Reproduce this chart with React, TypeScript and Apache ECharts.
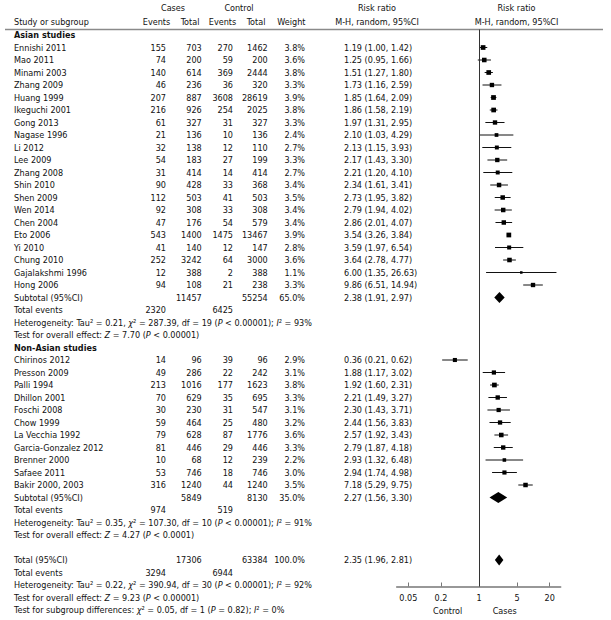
import React, { useEffect, useRef } from "react";
import * as echarts from "echarts";

// ---------------- DATA ----------------
const asianNames = ["Ennishi 2011", "Mao 2011", "Minami 2003", "Zhang 2009", "Huang 1999", "Ikeguchi 2001", "Gong 2013", "Nagase 1996", "Li 2012", "Lee 2009", "Zhang 2008", "Shin 2010", "Shen 2009", "Wen 2014", "Chen 2004", "Eto 2006", "Yi 2010", "Chung 2010", "Gajalakshmi 1996", "Hong 2006"];
const asianCaseEvents = [155, 74, 140, 46, 207, 216, 61, 21, 32, 54, 31, 90, 112, 92, 47, 543, 41, 252, 12, 94];
const asianCaseTotals = [703, 200, 614, 236, 887, 926, 327, 136, 138, 183, 414, 428, 503, 308, 176, 1400, 140, 3242, 388, 108];
const asianCtrlEvents = [270, 59, 369, 36, 3608, 254, 31, 10, 12, 27, 14, 33, 41, 33, 54, 1475, 12, 64, 2, 21];
const asianCtrlTotals = [1462, 200, 2444, 320, 28619, 2025, 327, 136, 110, 199, 414, 368, 503, 308, 579, 13467, 147, 3000, 388, 238];
const asianWeights = [3.8, 3.6, 3.8, 3.3, 3.9, 3.8, 3.3, 2.4, 2.7, 3.3, 2.7, 3.4, 3.5, 3.4, 3.4, 3.9, 2.8, 3.6, 1.1, 3.3];
const asianRR = [1.19, 1.25, 1.51, 1.73, 1.85, 1.86, 1.97, 2.10, 2.13, 2.17, 2.21, 2.34, 2.73, 2.79, 2.86, 3.54, 3.59, 3.64, 6.00, 9.86];
const asianLo = [1.00, 0.95, 1.27, 1.16, 1.64, 1.58, 1.31, 1.03, 1.15, 1.43, 1.20, 1.61, 1.95, 1.94, 2.01, 3.26, 1.97, 2.78, 1.35, 6.51];
const asianHi = [1.42, 1.66, 1.80, 2.59, 2.09, 2.19, 2.95, 4.29, 3.93, 3.30, 4.10, 3.41, 3.82, 4.02, 4.07, 3.84, 6.54, 4.77, 26.63, 14.94];

const nonAsianNames = ["Chirinos 2012", "Presson 2009", "Palli 1994", "Dhillon 2001", "Foschi 2008", "Chow 1999", "La Vecchia 1992", "Garcia-Gonzalez 2012", "Brenner 2000", "Safaee 2011", "Bakir 2000, 2003"];
const nonAsianCaseEvents = [14, 49, 213, 70, 30, 59, 79, 81, 10, 53, 316];
const nonAsianCaseTotals = [96, 286, 1016, 629, 230, 464, 628, 446, 68, 746, 1240];
const nonAsianCtrlEvents = [39, 22, 177, 35, 31, 25, 87, 29, 12, 18, 44];
const nonAsianCtrlTotals = [96, 242, 1623, 695, 547, 480, 1776, 446, 239, 746, 1240];
const nonAsianWeights = [2.9, 3.1, 3.8, 3.3, 3.1, 3.2, 3.6, 3.3, 2.2, 3.0, 3.5];
const nonAsianRR = [0.36, 1.88, 1.92, 2.21, 2.30, 2.44, 2.57, 2.79, 2.93, 2.94, 7.18];
const nonAsianLo = [0.21, 1.17, 1.60, 1.49, 1.43, 1.56, 1.92, 1.87, 1.32, 1.74, 5.29];
const nonAsianHi = [0.62, 3.02, 2.31, 3.27, 3.71, 3.83, 3.43, 4.18, 6.48, 4.98, 9.75];

// subtotals: [Asian, Non-Asian, Overall]
const summaryLabels = ["Subtotal (95%CI)", "Subtotal (95%CI)", "Total (95%CI)"];
const summaryCaseTotals = [11457, 5849, 17306];
const summaryCtrlTotals = [55254, 8130, 63384];
const summaryWeights = [65.0, 35.0, 100.0];
const summaryRR = [2.38, 2.27, 2.35];
const summaryLo = [1.91, 1.56, 1.96];
const summaryHi = [2.97, 3.30, 2.81];
const summaryCaseEvents = [2320, 974, 3294];
const summaryCtrlEvents = [6425, 519, 6944];
const hetTau2 = ["0.21", "0.35", "0.22"];
const hetChi2 = ["287.39", "107.30", "390.94"];
const hetDf = [19, 10, 30];
const hetP = ["< 0.00001", "< 0.00001", "< 0.00001"];
const hetI2 = ["93%", "91%", "92%"];
const effectZ = ["7.70", "4.27", "9.23"];
const effectP = ["< 0.00001", "< 0.0001", "< 0.00001"];
const subgroupTest = { chi2: "0.05", df: 1, p: "= 0.82", i2: "0%" };

const axisTicks = [0.05, 0.2, 1, 5, 20];

// ---------------- LAYOUT ----------------
const W = 611;
const H = 620;
const FONT = '"DejaVu Sans Condensed", "DejaVu Sans", sans-serif';
const FS = 9;
const ROW0 = 35;
const ROWH = 12.5;
const rowY = (i: number) => ROW0 + ROWH * i;
const GRID_TOP = 29.5;
const GRID_BOTTOM = 586.5;
const GRID_LEFT = 396.7;
const GRID_RIGHT_X = 560.7;

const X_NAME = 14;
const X_CE = 166;
const X_CT = 201.7;
const X_KE = 233;
const X_KT = 267.7;
const X_W = 305;
const X_CI = 344;

const RICH = {
  i: { fontStyle: "italic", fontSize: FS, fontFamily: FONT, fill: "#111" },
};

function txt(x: number, y: number, text: string, align = "left", extra: any = {}) {
  return {
    type: "text",
    x,
    y,
    silent: true,
    style: {
      text,
      fill: "#111",
      fontSize: FS,
      fontFamily: FONT,
      textAlign: align,
      textVerticalAlign: "middle",
      rich: RICH,
      ...extra,
    },
  };
}

const fmtCI = (r: number, l: number, h: number) => `${r.toFixed(2)} (${l.toFixed(2)}, ${h.toFixed(2)})`;

function buildGraphics() {
  const els: any[] = [];
  // headers
  els.push(txt(173, 8, "Cases", "center"));
  els.push(txt(239, 8, "Control", "center"));
  els.push(txt(377, 8, "Risk ratio", "center"));
  els.push(txt(516.5, 8, "Risk ratio", "center"));
  els.push(txt(X_NAME, 22, "Study or subgroup"));
  els.push(txt(156.5, 22, "Events", "center"));
  els.push(txt(190, 22, "Total", "center"));
  els.push(txt(222.5, 22, "Events", "center"));
  els.push(txt(256, 22, "Total", "center"));
  els.push(txt(305.5, 22, "Weight", "right"));
  els.push(txt(377, 22, "M-H, random, 95%CI", "center"));
  els.push(txt(516.5, 22, "M-H, random, 95%CI", "center"));
  els.push({
    type: "line",
    silent: true,
    shape: { x1: 5, y1: GRID_TOP, x2: 603, y2: GRID_TOP },
    style: { stroke: "#8a8a8a", lineWidth: 1.5 },
  });

  const groups = [
    { title: "Asian studies", start: 0, names: asianNames, ce: asianCaseEvents, ct: asianCaseTotals, ke: asianCtrlEvents, kt: asianCtrlTotals, w: asianWeights, rr: asianRR, lo: asianLo, hi: asianHi },
    { title: "Non-Asian studies", start: 25, names: nonAsianNames, ce: nonAsianCaseEvents, ct: nonAsianCaseTotals, ke: nonAsianCtrlEvents, kt: nonAsianCtrlTotals, w: nonAsianWeights, rr: nonAsianRR, lo: nonAsianLo, hi: nonAsianHi },
  ];
  const summaryRows: number[] = [];
  groups.forEach((g) => {
    els.push(txt(X_NAME, rowY(g.start), g.title, "left", { fontWeight: "bold" }));
    g.names.forEach((n, k) => {
      const y = rowY(g.start + 1 + k);
      els.push(txt(X_NAME, y, n));
      els.push(txt(X_CE, y, String(g.ce[k]), "right"));
      els.push(txt(X_CT, y, String(g.ct[k]), "right"));
      els.push(txt(X_KE, y, String(g.ke[k]), "right"));
      els.push(txt(X_KT, y, String(g.kt[k]), "right"));
      els.push(txt(X_W, y, `${g.w[k].toFixed(1)}%`, "right"));
      els.push(txt(X_CI, y, fmtCI(g.rr[k], g.lo[k], g.hi[k])));
    });
    summaryRows.push(g.start + 1 + g.names.length);
  });
  summaryRows.push(42);

  summaryRows.forEach((r, s) => {
    const y = rowY(r);
    els.push(txt(X_NAME, y, summaryLabels[s]));
    els.push(txt(X_CT, y, String(summaryCaseTotals[s]), "right"));
    els.push(txt(X_KT, y, String(summaryCtrlTotals[s]), "right"));
    els.push(txt(X_W, y, `${summaryWeights[s].toFixed(1)}%`, "right"));
    els.push(txt(X_CI, y, fmtCI(summaryRR[s], summaryLo[s], summaryHi[s])));
    const y1 = rowY(r + 1);
    els.push(txt(X_NAME, y1, "Total events"));
    els.push(txt(X_CE, y1, String(summaryCaseEvents[s]), "right"));
    els.push(txt(X_KE, y1, String(summaryCtrlEvents[s]), "right"));
    els.push(
      txt(
        X_NAME,
        rowY(r + 2),
        `Heterogeneity: Tau² = ${hetTau2[s]}, {i|χ}² = ${hetChi2[s]}, df = ${hetDf[s]} ({i|P} ${hetP[s]}); {i|I}² = ${hetI2[s]}`
      )
    );
    els.push(txt(X_NAME, rowY(r + 3), `Test for overall effect: {i|Z} = ${effectZ[s]} ({i|P} ${effectP[s]})`));
  });
  els.push(
    txt(
      X_NAME,
      rowY(46),
      `Test for subgroup differences: {i|χ}² = ${subgroupTest.chi2}, df = ${subgroupTest.df} ({i|P} ${subgroupTest.p}); {i|I}² = ${subgroupTest.i2}`
    )
  );
  // axis captions
  els.push(txt(447.7, 611.3, "Control", "center"));
  els.push(txt(504.7, 611.3, "Cases", "center"));
  return { els, summaryRows };
}

function buildOption() {
  const { els, summaryRows } = buildGraphics();
  const studyData: number[][] = [];
  asianNames.forEach((_, k) =>
    studyData.push([Math.log10(asianLo[k]), Math.log10(asianHi[k]), Math.log10(asianRR[k]), 1 + k, asianWeights[k]])
  );
  nonAsianNames.forEach((_, k) =>
    studyData.push([Math.log10(nonAsianLo[k]), Math.log10(nonAsianHi[k]), Math.log10(nonAsianRR[k]), 26 + k, nonAsianWeights[k]])
  );
  const diamondData = summaryRows.map((r, s) => [Math.log10(summaryLo[s]), Math.log10(summaryHi[s]), Math.log10(summaryRR[s]), r]);

  const yMin = (GRID_TOP - ROW0) / ROWH;
  const yMax = (GRID_BOTTOM - ROW0) / ROWH;
  const tickVals = axisTicks.map((t) => Math.log10(t));
  const c1 = 479;
  const pxPerDec = (549.7 - 408.3) / (2 * Math.log10(20));

  return {
    animation: false,
    grid: { left: GRID_LEFT, right: W - GRID_RIGHT_X, top: GRID_TOP, bottom: H - GRID_BOTTOM },
    xAxis: {
      type: "value",
      min: (GRID_LEFT - c1) / pxPerDec,
      max: (GRID_RIGHT_X - c1) / pxPerDec,
      splitLine: { show: false },
      axisLine: { show: true, onZero: false, lineStyle: { color: "#777", width: 1.5 } },
      axisTick: { show: true, inside: true, length: 4, customValues: tickVals, lineStyle: { color: "#777", width: 1 } },
      axisLabel: {
        customValues: tickVals,
        color: "#111",
        fontSize: FS,
        fontFamily: FONT,
        margin: 7,
        formatter: (v: number) => String(Math.round(Math.pow(10, v) * 100) / 100),
      },
    },
    yAxis: { type: "value", inverse: true, min: yMin, max: yMax, show: false },
    series: [
      {
        type: "custom",
        name: "studies",
        clip: false,
        data: studyData,
        renderItem: (params: any, api: any) => {
          const row = api.value(3);
          const a = api.coord([api.value(0), row]);
          const b = api.coord([api.value(1), row]);
          const c = api.coord([api.value(2), row]);
          const s = 2.4 * Math.sqrt(api.value(4));
          return {
            type: "group",
            children: [
              { type: "line", shape: { x1: a[0], y1: a[1], x2: b[0], y2: b[1] }, style: { stroke: "#111", lineWidth: 1 } },
              { type: "rect", shape: { x: c[0] - s / 2, y: c[1] - s / 2, width: s, height: s }, style: { fill: "#000" } },
            ],
          };
        },
        markLine: {
          silent: true,
          symbol: "none",
          label: { show: false },
          lineStyle: { color: "#333", width: 1, type: "solid" },
          data: [{ xAxis: 0 }],
        },
      },
      {
        type: "custom",
        name: "summaries",
        clip: false,
        data: diamondData,
        renderItem: (params: any, api: any) => {
          const row = api.value(3);
          const a = api.coord([api.value(0), row]);
          const b = api.coord([api.value(1), row]);
          const c = api.coord([api.value(2), row]);
          const h = 5.5;
          return {
            type: "polygon",
            shape: { points: [[a[0], a[1]], [c[0], c[1] - h], [b[0], b[1]], [c[0], c[1] + h]] },
            style: { fill: "#000" },
          };
        },
      },
    ],
    graphic: { elements: els },
  };
}

export default function App() {
  const ref = useRef<HTMLDivElement>(null);
  useEffect(() => {
    if (!ref.current) return;
    const chart = echarts.init(ref.current, null, { renderer: "svg" });
    chart.setOption(buildOption() as any);
    return () => chart.dispose();
  }, []);
  return (
    <div
      ref={ref}
      style={{ position: "fixed", left: 0, top: 0, width: W, height: H, background: "#fff" }}
    />
  );
}
